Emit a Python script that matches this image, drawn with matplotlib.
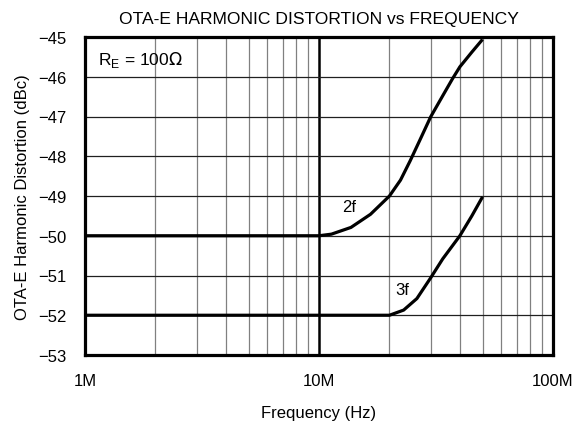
import matplotlib
matplotlib.use("Agg")
import matplotlib.pyplot as plt
from matplotlib.ticker import FixedLocator, NullFormatter

plt.rcParams['font.family'] = ['Liberation Sans', 'DejaVu Sans']

# Data (frequency in Hz, distortion in dBc)
f2_freq = [1e6, 10e6, 11.3e6, 13.7e6, 16.6e6, 20e6, 22.3e6, 24.5e6, 27e6, 30e6, 34e6, 37.2e6, 40e6, 45e6, 50e6]
f2_dbc = [-50, -50, -49.96, -49.79, -49.46, -49.0, -48.6, -48.12, -47.59, -47.01, -46.45, -46.05, -45.75, -45.38, -45.06]

f3_freq = [1e6, 20e6, 23e6, 26.2e6, 30e6, 33.8e6, 40e6, 45e6, 50e6]
f3_dbc = [-52, -52, -51.87, -51.58, -51.06, -50.58, -50.0, -49.5, -49.02]

x_ticks = [1e6, 10e6, 100e6]
x_labels = ["1M", "10M", "100M"]
y_ticks = [-53, -52, -51, -50, -49, -48, -47, -46, -45]
y_labels = ["\u221253", "\u221252", "\u221251", "\u221250", "\u221249", "\u221248", "\u221247", "\u221246", "\u221245"]

fig = plt.figure(figsize=(5.78, 4.27), dpi=100)
ax = fig.add_axes([85/578, 1 - 356/427, 468/578, (356-38)/427])
ax.set_xscale('log')
ax.set_xlim(1e6, 100e6)
ax.set_ylim(-53, -45)

# grid
minor = [m * d for d in (1e6, 1e7) for m in range(2, 10)]
for x in minor:
    ax.axvline(x, color='#808080', lw=0.9, zorder=1)
ax.axvline(10e6, color='black', lw=1.8, zorder=1)
for y in y_ticks[1:-1]:
    ax.axhline(y, color='#202020', lw=0.9, zorder=1)

ax.plot(f2_freq, f2_dbc, color='black', lw=2.3, zorder=3, solid_capstyle='butt', solid_joinstyle='round')
ax.plot(f3_freq, f3_dbc, color='black', lw=2.3, zorder=3, solid_capstyle='butt', solid_joinstyle='round')

ax.set_xticks(x_ticks)
ax.set_xticklabels(x_labels)
ax.xaxis.set_minor_locator(FixedLocator(minor))
ax.xaxis.set_minor_formatter(NullFormatter())
ax.set_yticks(y_ticks)
ax.set_yticklabels(y_labels)
ax.tick_params(which='both', length=0, labelsize=12)
ax.tick_params(axis='y', pad=13)
ax.tick_params(axis='x', pad=13)

for s in ax.spines.values():
    s.set_linewidth(2.3)
    s.set_zorder(5)

ax.text(1.137e6, -45.55, r"R$_\mathregular{E}$ = 100$\Omega$", fontsize=12.5, va='center', ha='left')
ax.text(13.5e6, -49.26, "2f", fontsize=12, ha='center', va='center')
ax.text(22.6e6, -51.35, "3f", fontsize=12, ha='center', va='center')

ax.set_title("OTA-E HARMONIC DISTORTION vs FREQUENCY", fontsize=12.6, pad=10)
ax.set_xlabel("Frequency (Hz)", fontsize=12, labelpad=12)
ax.set_ylabel("OTA-E Harmonic Distortion (dBc)", fontsize=12, labelpad=6)

fig.savefig("out.png", dpi=100)
